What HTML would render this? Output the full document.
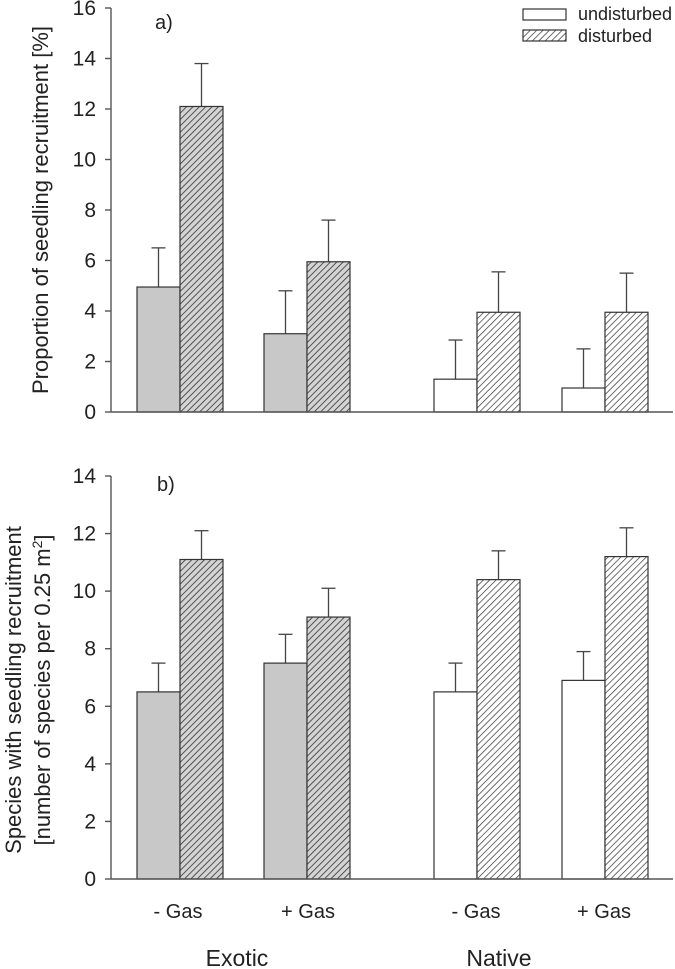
<!DOCTYPE html>
<html><head><meta charset="utf-8"><style>
html,body{margin:0;padding:0;background:#fff;}
svg{display:block;font-family:"Liberation Sans",Arial,sans-serif;}
</style></head><body>
<svg id="chart" width="675" height="969" viewBox="0 0 675 969" xmlns="http://www.w3.org/2000/svg">
<defs>
<pattern id="hatchG" patternUnits="userSpaceOnUse" width="4.5" height="4.5" patternTransform="rotate(45)">
<rect width="4.5" height="4.5" fill="#d4d4d4"/><line x1="0" y1="0" x2="0" y2="4.5" stroke="#333" stroke-width="1.6"/></pattern>
<pattern id="hatchW" patternUnits="userSpaceOnUse" width="4.5" height="4.5" patternTransform="rotate(45)">
<rect width="4.5" height="4.5" fill="#fff"/><line x1="0" y1="0" x2="0" y2="4.5" stroke="#333" stroke-width="1.4"/></pattern>
</defs>
<g>
<rect x="523" y="9" width="43" height="11" fill="#fff" stroke="#333" stroke-width="1.2"/>
<text x="578" y="20" font-size="18" fill="#222">undisturbed</text>
<rect x="523" y="30" width="43" height="11" fill="url(#hatchW)" stroke="#333" stroke-width="1.2"/>
<text x="578" y="42" font-size="18" fill="#222">disturbed</text>
</g>
<text x="155" y="29" font-size="20" fill="#222">a)</text>
<text x="157" y="491" font-size="20" fill="#222">b)</text>
<text transform="translate(48,210) rotate(-90)" text-anchor="middle" font-size="22" fill="#222">Proportion of seedling recruitment [%]</text>
<text transform="translate(21,690) rotate(-90)" text-anchor="middle" font-size="22" fill="#222">Species with seedling recruitment</text>
<text transform="translate(50,690) rotate(-90)" text-anchor="middle" font-size="22" fill="#222">[number of species per 0.25 m<tspan dy="-8" font-size="14">2</tspan><tspan dy="8">]</tspan></text>
<g id="plots"></g>
<g>
<text x="178" y="918" text-anchor="middle" font-size="20" fill="#222">- Gas</text>
<text x="308" y="918" text-anchor="middle" font-size="20" fill="#222">+ Gas</text>
<text x="476" y="918" text-anchor="middle" font-size="20" fill="#222">- Gas</text>
<text x="604" y="918" text-anchor="middle" font-size="20" fill="#222">+ Gas</text>
<text x="237" y="966" text-anchor="middle" font-size="23" fill="#222">Exotic</text>
<text x="499" y="966" text-anchor="middle" font-size="23" fill="#222">Native</text>
</g>
</svg>
<script>
const categories = ["Exotic -Gas","Exotic +Gas","Native -Gas","Native +Gas"];
const aUndist = [4.95, 3.1, 1.3, 0.95];
const aUndistErr = [1.55, 1.7, 1.55, 1.55];
const aDist = [12.1, 5.95, 3.95, 3.95];
const aDistErr = [1.7, 1.65, 1.6, 1.55];
const bUndist = [6.5, 7.5, 6.5, 6.9];
const bUndistErr = [1.0, 1.0, 1.0, 1.0];
const bDist = [11.1, 9.1, 10.4, 11.2];
const bDistErr = [1.0, 1.0, 1.0, 1.0];
const aTicks = [0,2,4,6,8,10,12,14,16];
const bTicks = [0,2,4,6,8,10,12,14];

const NS = "http://www.w3.org/2000/svg";
const root = document.getElementById('plots');
const groupX = [137, 264, 434, 562];
const BW = 43;
function mk(tag, attrs, parent){const e=document.createElementNS(NS,tag);for(const k in attrs)e.setAttribute(k,attrs[k]);parent.appendChild(e);return e;}

function panel(id, y0, yTop, max, ticks, und, undE, dis, disE){
  const g = mk('g',{},root);
  
  
  const y = v => y0 - (v/max)*(y0-yTop);
  categories.forEach((c,i)=>{
    const exotic = i<2;
    const x1 = groupX[i], x2 = groupX[i]+BW;
    [[und[i],undE[i],x1,exotic?'#c8c8c8':'#fff','undisturbed'],[dis[i],disE[i],x2,exotic?'url(#hatchG)':'url(#hatchW)','disturbed']].forEach(([v,e,x,fill,name])=>{
      const cx = x+BW/2;
      const eb = mk('line',{x1:cx,x2:cx,y1:y(v),y2:y(v+e),stroke:'#444','stroke-width':1.3},g);
      
      
      const cap = mk('line',{x1:cx-7,x2:cx+7,y1:y(v+e),y2:y(v+e),stroke:'#444','stroke-width':1.3},g);
      
      
      const r = mk('rect',{x:x,y:y(v),width:BW,height:y0-y(v),fill:fill,stroke:'#333','stroke-width':1.2},g);
      
      
    });
  });
  const ax = mk('line',{x1:111,x2:111,y1:yTop,y2:y0,stroke:'#555','stroke-width':1.4},g);
  
  
  const xa = mk('line',{x1:111,x2:673,y1:y0,y2:y0,stroke:'#555','stroke-width':1.4},g);
  
  
  ticks.forEach(t=>{
    const tk = mk('line',{x1:105,x2:111,y1:y(t),y2:y(t),stroke:'#555','stroke-width':1.4},g);
    
    
    const tl = mk('text',{x:96,y:y(t)+7,'text-anchor':'end','font-size':21,fill:'#222'},g);
    tl.textContent = t;
    
    
  });
}
panel('a', 412, 8, 16, aTicks, aUndist, aUndistErr, aDist, aDistErr);
panel('b', 879, 476, 14, bTicks, bUndist, bUndistErr, bDist, bDistErr);
</script>
</body></html>
